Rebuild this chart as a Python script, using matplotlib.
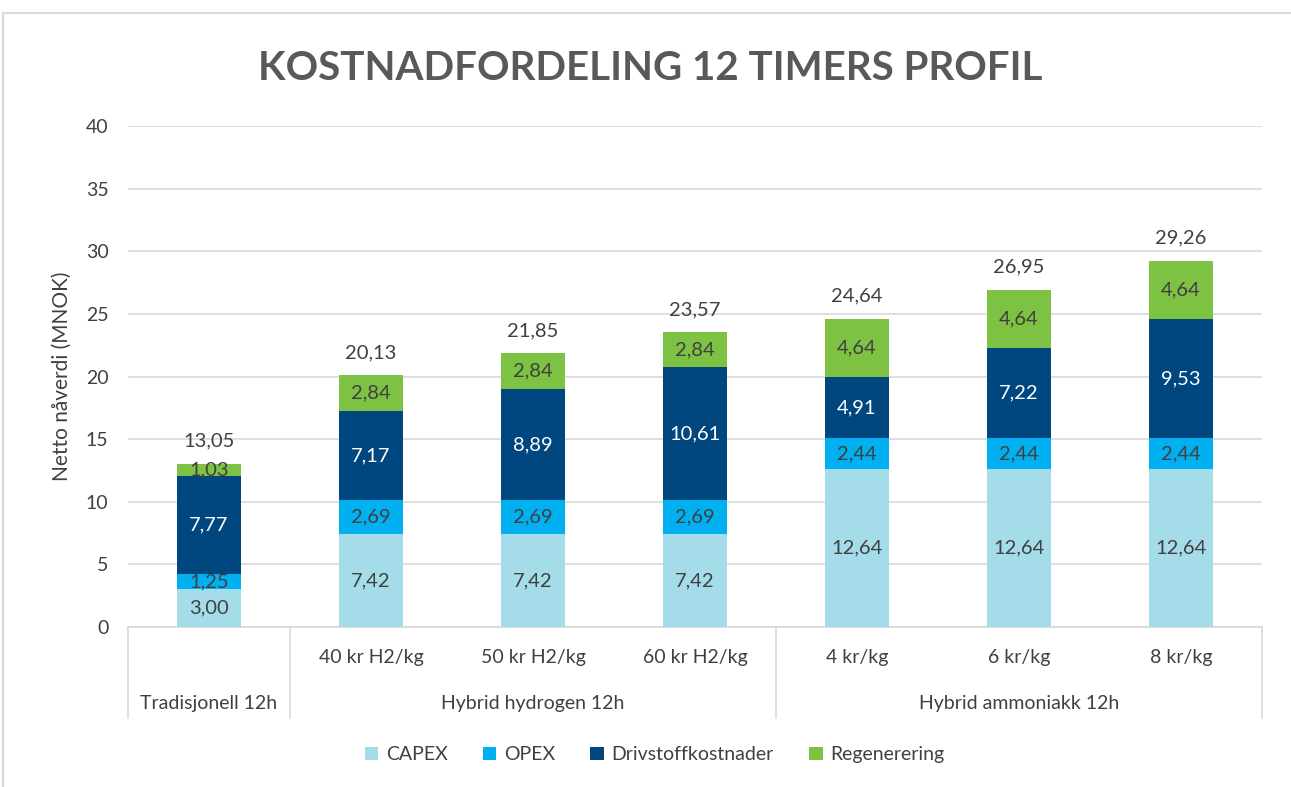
import matplotlib.pyplot as plt
import matplotlib.transforms as mtransforms
from matplotlib.lines import Line2D
import numpy as np

# data
sub_labels = ["", "40 kr H2/kg", "50 kr H2/kg", "60 kr H2/kg", "4 kr/kg", "6 kr/kg", "8 kr/kg"]
groups = [("Tradisjonell 12h", 0, 0), ("Hybrid hydrogen 12h", 1, 3), ("Hybrid ammoniakk 12h", 4, 6)]
capex = [3.00, 7.42, 7.42, 7.42, 12.64, 12.64, 12.64]
opex = [1.25, 2.69, 2.69, 2.69, 2.44, 2.44, 2.44]
drivstoff = [7.77, 7.17, 8.89, 10.61, 4.91, 7.22, 9.53]
regen = [1.03, 2.84, 2.84, 2.84, 4.64, 4.64, 4.64]
totals = [13.05, 20.13, 21.85, 23.57, 24.64, 26.95, 29.26]

series = [
    ("CAPEX", capex, "#A4DDE9", "#404040"),
    ("OPEX", opex, "#00B0F0", "#404040"),
    ("Drivstoffkostnader", drivstoff, "#00467F", "white"),
    ("Regenerering", regen, "#7DC243", "#404040"),
]

plt.rcParams['font.family'] = ['Lato', 'DejaVu Sans']
text_col = "#404040"

fig = plt.figure(figsize=(12.91, 7.87), dpi=100)
ax = fig.add_axes([0.0991, 0.2033, 0.8784, 0.6366])

x = np.arange(len(sub_labels))
bottom = np.zeros(len(x))
for name, vals, color, lcol in series:
    vals = np.array(vals)
    ax.bar(x, vals, width=0.4, bottom=bottom, color=color, label=name, zorder=3)
    for xi, b, v in zip(x, bottom, vals):
        ax.text(xi, b + v / 2, f"{v:.2f}".replace(".", ","), ha="center", va="center",
                fontsize=14.5, color=lcol, zorder=4)
    bottom = bottom + vals

for xi, top, tot in zip(x, bottom, totals):
    ax.text(xi, top + 1.1, f"{tot:.2f}".replace(".", ","), ha="center", va="bottom",
            fontsize=14.5, color=text_col)

ax.set_ylim(0, 40)
ax.set_xlim(-0.5, len(x) - 0.5)
ax.set_yticks(range(0, 41, 5))
ax.tick_params(axis="y", length=0, labelsize=14, labelcolor=text_col, pad=14)
ax.set_xticks([])
ax.yaxis.grid(True, color="#D9D9D9", linewidth=1.2, zorder=0)
for s in ["top", "right", "left"]:
    ax.spines[s].set_visible(False)
ax.spines["bottom"].set_color("#D9D9D9")
ax.spines["bottom"].set_linewidth(1.2)
ax.set_ylabel("Netto nåverdi (MNOK)", fontsize=15, color=text_col, labelpad=10)

# two-level category axis
trans = mtransforms.blended_transform_factory(ax.transData, ax.transAxes)
for xi, lab in zip(x, sub_labels):
    ax.text(xi, -0.06, lab, transform=trans, ha="center", va="center", fontsize=14, color=text_col)
for name, a, b in groups:
    ax.text((a + b) / 2, -0.152, name, transform=trans, ha="center", va="center",
            fontsize=14, color=text_col)
for sep in [-0.5, 0.5, 3.5, 6.5]:
    ax.add_line(Line2D([sep, sep], [0, -0.182], transform=trans, color="#D9D9D9",
                       linewidth=1.2, clip_on=False))

fig.text(0.504, 0.913, "KOSTNADFORDELING 12 TIMERS PROFIL", ha="center", va="center",
         fontsize=29, fontweight="bold", color="#595959")

fig.legend(loc="center", bbox_to_anchor=(0.507, 0.041), ncol=4, frameon=False,
           fontsize=14, handlelength=0.7, handleheight=0.7, handletextpad=0.4,
           columnspacing=1.8, labelcolor=text_col)

# chart area border
fig.add_artist(Line2D([3 / 1291, 1], [1 - 13 / 787, 1 - 13 / 787], transform=fig.transFigure,
                      color="#D9D9D9", linewidth=1.5))
fig.add_artist(Line2D([3 / 1291, 3 / 1291], [0, 1 - 13 / 787], transform=fig.transFigure,
                      color="#D9D9D9", linewidth=1.5))

fig.savefig("out.png", dpi=100)
